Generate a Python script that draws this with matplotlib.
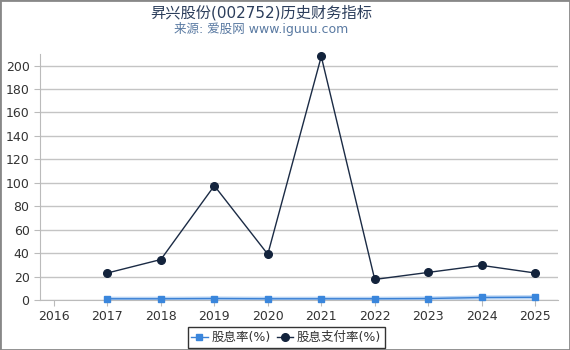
import matplotlib.pyplot as plt
from matplotlib.patches import Rectangle

plt.rcParams['font.family'] = ['DejaVu Sans', 'Noto Sans CJK SC']

years = [2017, 2018, 2019, 2020, 2021, 2022, 2023, 2024, 2025]
# 股息率(%)
yield_pct = [1.0, 1.0, 1.2, 1.0, 1.0, 1.0, 1.2, 2.1, 2.3]
# 股息支付率(%)
payout_pct = [23.0, 34.5, 97.5, 39.0, 207.8, 17.5, 23.5, 29.5, 23.0]
xticks = [2016, 2017, 2018, 2019, 2020, 2021, 2022, 2023, 2024, 2025]
yticks = [0, 20, 40, 60, 80, 100, 120, 140, 160, 180, 200]

fig = plt.figure(figsize=(5.7, 3.5), dpi=100)
ax = fig.add_axes([0.0702, 0.143, 0.909, 0.703])

# 股息率 line with light halo
ax.plot(years, yield_pct, color='#b8d4f4', lw=3, zorder=2, solid_capstyle='round')
ax.plot(years, yield_pct, color='#3a80d4', lw=1, marker='s', ms=5,
        markerfacecolor='#3a86dc', markeredgecolor='#3a86dc',
        label='股息率(%)', zorder=3, clip_on=False)
ax.plot(years, payout_pct, color='#1b2b45', lw=1, marker='o', ms=5.5,
        markerfacecolor='#13233c', markeredgecolor='#13233c',
        label='股息支付率(%)', zorder=4, clip_on=False)

ax.set_xlim(2015.74, 2025.43)
ax.set_ylim(0, 210)
ax.set_xticks(xticks)
ax.set_yticks(yticks)
ax.grid(axis='y', color='#c4c4c4', lw=1)
ax.set_axisbelow(True)
for s in ['top', 'right']:
    ax.spines[s].set_visible(False)
for s in ['left', 'bottom']:
    ax.spines[s].set_color('#bbbbbb')
ax.tick_params(axis='both', colors='#bbbbbb', labelcolor='#333333',
               labelsize=9, length=4)

fig.text(0.458, 0.965, '昇兴股份(002752)历史财务指标', ha='center', va='center',
         fontsize=11, color='#2c3e5c')
fig.text(0.458, 0.918, '来源: 爱股网 www.iguuu.com', ha='center', va='center',
         fontsize=9, color='#5a7aa2')

leg = fig.legend(loc='center', bbox_to_anchor=(0.502, 0.036), ncol=2,
                 fontsize=9, frameon=True, fancybox=False,
                 handlelength=1.3, handletextpad=0.3, columnspacing=0.5,
                 borderpad=0.3, labelcolor='#333333')
leg.get_frame().set_edgecolor('black')
leg.get_frame().set_linewidth(1)

fig.patches.append(Rectangle((0, 0), 1, 1, transform=fig.transFigure,
                             fill=False, edgecolor='#888888', lw=2))

fig.savefig('out.png', dpi=100)
